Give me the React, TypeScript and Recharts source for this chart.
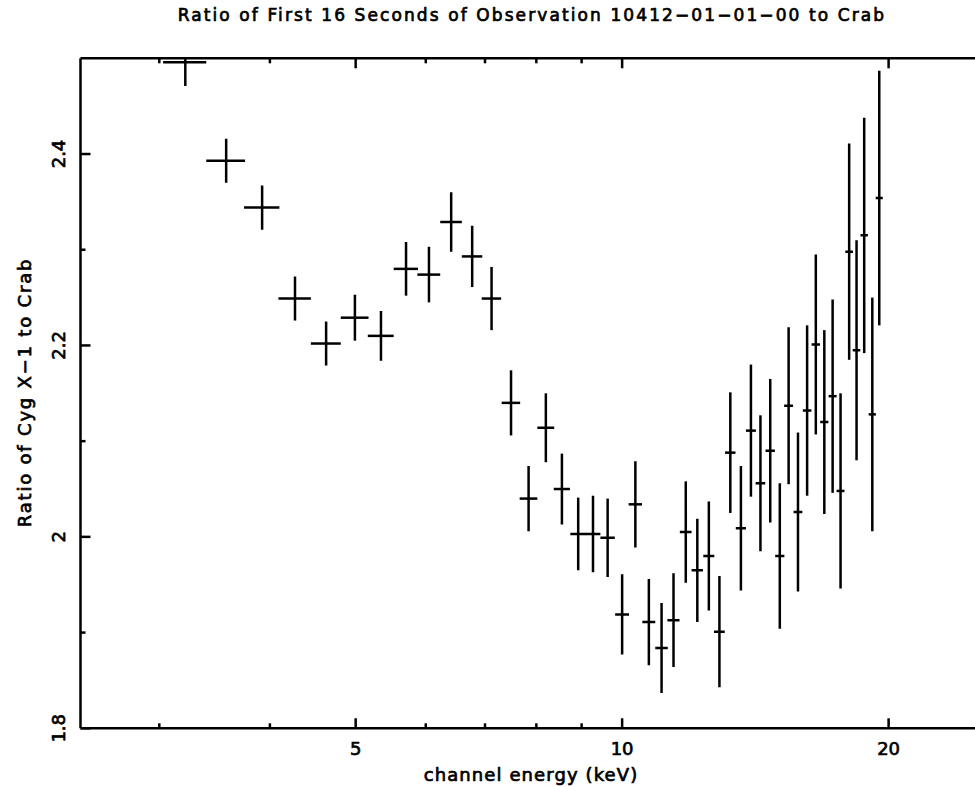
import { ScatterChart, Scatter, XAxis, YAxis, ErrorBar, Customized } from "recharts";

// channel centres (keV), Cyg X-1 / Crab ratio and 1-sigma errors
const energy = [
  3.21, 3.57, 3.92, 4.27, 4.63, 4.99, 5.34, 5.7, 6.05, 6.41, 6.77, 7.12, 7.49,
  7.84, 8.2, 8.55, 8.92, 9.27, 9.63, 10.0, 10.35, 10.72, 11.08, 11.43, 11.8,
  12.16, 12.53, 12.88, 13.25, 13.62, 13.98, 14.33, 14.7, 15.07, 15.42, 15.8,
  16.18, 16.55, 16.92, 17.29, 17.65, 18.05, 18.4, 18.77, 19.17, 19.52,
];
const ratio = [
  2.496, 2.393, 2.344, 2.249, 2.202, 2.229, 2.21, 2.28, 2.274, 2.329, 2.293,
  2.249, 2.14, 2.04, 2.114, 2.05, 2.003, 2.003, 1.999, 1.919, 2.034, 1.911,
  1.884, 1.913, 2.005, 1.965, 1.98, 1.901, 2.088, 2.009, 2.111, 2.056, 2.09,
  1.98, 2.137, 2.026, 2.132, 2.201, 2.12, 2.147, 2.048, 2.298, 2.195, 2.315,
  2.128, 2.354,
];
const ratioErr = [
  0.025, 0.023, 0.023, 0.023, 0.023, 0.024, 0.026, 0.028, 0.029, 0.031, 0.032,
  0.033, 0.034, 0.034, 0.036, 0.037, 0.038, 0.04, 0.041, 0.042, 0.045, 0.045,
  0.047, 0.049, 0.053, 0.054, 0.057, 0.058, 0.063, 0.065, 0.069, 0.071, 0.075,
  0.076, 0.082, 0.083, 0.089, 0.094, 0.096, 0.101, 0.102, 0.113, 0.115, 0.123,
  0.122, 0.133,
];
// every PCA channel is the same width in keV
const channelHalfWidth = 0.18;

const xTicks = [3, 4, 5, 6, 7, 8, 9, 10, 20];
const xMajor = [5, 10, 20];
const yTicks = [1.8, 1.9, 2.0, 2.1, 2.2, 2.3, 2.4];
const yMajor: Record<string, string> = { "1.8": "1.8", "2": "2", "2.2": "2.2", "2.4": "2.4" };

const points = energy.map((e, i) => ({
  energy: e,
  ratio: ratio[i],
  xErr: channelHalfWidth,
  yErr: ratioErr[i],
}));

const FONT = "'DejaVu Sans', sans-serif";
const INK = "#000";
const LINE_W = 2.5;
const MAJOR = 10;
const MINOR = 5;
// PGPLOT-ish heavy lettering
const textInk = { fill: INK, stroke: INK, strokeWidth: 0.7 };

const W = 1000;
const H = 787;
const M = { top: 57.3, right: 14, bottom: 0, left: 79.5 };
const AXIS_W = 1;
const X_AXIS_H = 58.7;
const plot = {
  x: M.left + AXIS_W,
  y: M.top + AXIS_W,
  w: W - M.left - M.right - 2 * AXIS_W,
  h: H - M.top - AXIS_W - X_AXIS_H,
};

const isMajorX = (v: number) => xMajor.includes(v);
const yLabel = (v: number) => yMajor[String(Math.round(v * 10) / 10)];

const BottomTick = ({ x, y, payload }: any) => {
  const v = payload.value;
  const len = isMajorX(v) ? MAJOR : MINOR;
  return (
    <g>
      <line x1={x} y1={y} x2={x} y2={y - len} stroke={INK} strokeWidth={LINE_W} />
      {isMajorX(v) && (
        <text x={x} y={y + 26.7} textAnchor="middle" fontSize={18} fontFamily={FONT} {...textInk}>
          {v}
        </text>
      )}
    </g>
  );
};

const TopTick = ({ x, y, payload }: any) => {
  const len = isMajorX(payload.value) ? MAJOR : MINOR;
  return <line x1={x} y1={y} x2={x} y2={y + len} stroke={INK} strokeWidth={LINE_W} />;
};

const LeftTick = ({ x, y, payload }: any) => {
  const label = yLabel(payload.value);
  return (
    <g>
      <line x1={x} y1={y} x2={x + (label ? MAJOR : MINOR)} y2={y} stroke={INK} strokeWidth={LINE_W} />
      {label && (
        <text
          transform={`translate(65, ${y}) rotate(-90)`}
          textAnchor="middle"
          fontSize={18}
          fontFamily={FONT}
          {...textInk}
        >
          {label}
        </text>
      )}
    </g>
  );
};

const RightTick = ({ x, y, payload }: any) => {
  const len = yLabel(payload.value) ? MAJOR : MINOR;
  return <line x1={x} y1={y} x2={x - len} y2={y} stroke={INK} strokeWidth={LINE_W} />;
};

// titles plus a clip region so error bars stop at the frame
const ChartText = () => (
  <g>
    <defs>
      <clipPath id="plot-area-clip">
        <rect x={plot.x} y={plot.y} width={plot.w} height={plot.h} />
      </clipPath>
    </defs>
    <g fontFamily={FONT} {...textInk}>
      <text x={532} y={20.7} textAnchor="middle" fontSize={17} letterSpacing={2.1}>
        Ratio of First 16 Seconds of Observation 10412−01−01−00 to Crab
      </text>
      <text x={531} y={781} textAnchor="middle" fontSize={18} letterSpacing={1.1}>
        channel energy (keV)
      </text>
      <text
        transform="translate(31, 392.5) rotate(-90)"
        textAnchor="middle"
        fontSize={18}
        letterSpacing={1.8}
      >
        Ratio of Cyg X−1 to Crab
      </text>
    </g>
  </g>
);

const noMarker = () => <g />;

export default function App() {
  const axisLine = { stroke: INK, strokeWidth: LINE_W };
  return (
    <div
      style={{
        position: "absolute",
        left: 0,
        top: 0,
        width: 975,
        height: 787,
        overflow: "hidden",
        background: "#fff",
      }}
    >
      <style>{`.recharts-errorBars, .recharts-errorBar { clip-path: url(#plot-area-clip); }`}</style>
      <ScatterChart width={W} height={H} margin={M}>
        <XAxis
          dataKey="energy"
          type="number"
          scale="log"
          domain={[2.444, 25.7]}
          allowDataOverflow
          ticks={xTicks}
          interval={0}
          tickSize={0}
          tickMargin={0}
          tick={<BottomTick />}
          axisLine={axisLine}
          height={X_AXIS_H}
        />
        <XAxis
          xAxisId="top"
          orientation="top"
          dataKey="energy"
          type="number"
          scale="log"
          domain={[2.444, 25.7]}
          allowDataOverflow
          ticks={xTicks}
          interval={0}
          tickSize={0}
          tickMargin={0}
          tick={<TopTick />}
          axisLine={axisLine}
          height={AXIS_W}
        />
        <YAxis
          dataKey="ratio"
          type="number"
          domain={[1.8, 2.5]}
          allowDataOverflow
          ticks={yTicks}
          interval={0}
          tickSize={0}
          tickMargin={0}
          tick={<LeftTick />}
          axisLine={axisLine}
          width={AXIS_W}
        />
        <YAxis
          yAxisId="right"
          orientation="right"
          dataKey="ratio"
          type="number"
          domain={[1.8, 2.5]}
          allowDataOverflow
          ticks={yTicks}
          interval={0}
          tickSize={0}
          tickMargin={0}
          tick={<RightTick />}
          axisLine={axisLine}
          width={AXIS_W}
        />
        <Customized component={ChartText} />
        <Scatter data={points} shape={noMarker} isAnimationActive={false}>
          <ErrorBar dataKey="xErr" direction="x" width={0} stroke={INK} strokeWidth={LINE_W} isAnimationActive={false} />
          <ErrorBar dataKey="yErr" direction="y" width={0} stroke={INK} strokeWidth={LINE_W} isAnimationActive={false} />
        </Scatter>
      </ScatterChart>
    </div>
  );
}
